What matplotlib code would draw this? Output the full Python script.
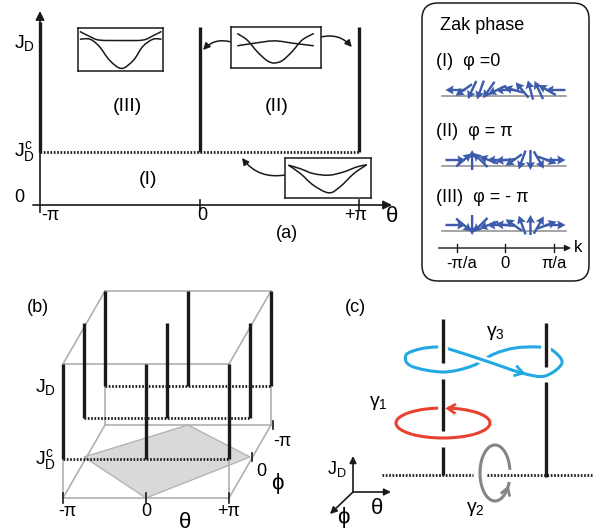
import numpy as np
import matplotlib.pyplot as plt
from matplotlib.path import Path
from matplotlib.patches import PathPatch, FancyBboxPatch, FancyArrowPatch, Polygon, Arc
import matplotlib.patheffects as pe

plt.rcParams['font.family'] = ['Liberation Sans', 'DejaVu Sans']
plt.rcParams['mathtext.fontset'] = 'custom'
plt.rcParams['mathtext.rm'] = 'Liberation Sans'
plt.rcParams['mathtext.it'] = 'Liberation Sans'
plt.rcParams['mathtext.sf'] = 'Liberation Sans'

PI = np.pi

# ---------------- data ----------------
# panel (a): phase diagram in (theta, J_D)
theta_ticks = [-PI, 0, PI]
theta_labels = ['-π', '0', '+π']
jd_c = 0.29                      # critical J_D
line_tops = [1.0, 0.97, 0.97]    # tops of the thick lines at -pi, 0, +pi
region_labels = ['(I)', '(II)', '(III)']
region_theta = [-1.01, 1.53, -1.43]
region_jd = [0.14, 0.54, 0.54]

# inset band curves (fractions of each inset box)
III_up_x = [0.02, 0.14, 0.25, 0.51, 0.76, 0.88, 0.98]
III_up_y = [0.92, 0.80, 0.72, 0.71, 0.72, 0.82, 0.92]
III_lo_x = [0.02, 0.14, 0.25, 0.37, 0.51, 0.65, 0.76, 0.88, 0.98]
III_lo_y = [0.74, 0.74, 0.57, 0.25, 0.06, 0.25, 0.57, 0.74, 0.74]
II_dip_x = [0.07, 0.18, 0.29, 0.40, 0.48, 0.57, 0.68, 0.79, 0.92]
II_dip_y = [0.84, 0.68, 0.40, 0.18, 0.12, 0.18, 0.40, 0.68, 0.84]
II_flat_x = [0.07, 0.25, 0.48, 0.70, 0.92]
II_flat_y = [0.54, 0.60, 0.66, 0.60, 0.54]
I_up_x = [0.04, 0.18, 0.33, 0.51, 0.68, 0.84, 0.95]
I_up_y = [0.82, 0.73, 0.61, 0.57, 0.65, 0.78, 0.83]
I_lo_x = [0.04, 0.18, 0.33, 0.51, 0.64, 0.80, 0.95]
I_lo_y = [0.82, 0.61, 0.32, 0.13, 0.28, 0.61, 0.83]

# Zak phase: spinor angles (deg) along k
k_samples = [-3.24, -2.70, -2.16, -1.62, -1.08, -0.54, 0.0, 0.54, 1.08, 1.62, 2.16, 2.70, 3.24]
ang_I = [180, 215, 245, 250, 235, 205, 180, 165, 130, 105, 115, 150, 180]
ang_II = [0, 40, 90, 135, 160, 180, 185, 215, 250, 270, 300, 340, 360]
ang_III = [0, -40, -90, -135, -160, -180, -185, -215, -250, -270, -300, -340, -360]
zak_titles = ['(I)  φ =0', '(II)  φ = π', '(III)  φ = - π']
k_ticks = [-PI, 0, PI]
k_labels = ['-π/a', '0', 'π/a']

# panel (b): 3D sketch, depth offsets of the phi planes
phi_nodes = [-PI, 0, PI]          # in -phi order: front (+pi), middle (0), back (-pi)
b_dx = [0, 21, 42]
b_dy = [0, -41, -73]

W, H = 602, 532
BLACK = '#1a1a1a'
BLUE = '#3c5cab'


def fig_box(x0, y0, x1, y1):
    return [x0 / W, 1 - y1 / H, (x1 - x0) / W, (y1 - y0) / H]


def smooth(pts, closed=False):
    pts = np.asarray(pts, float)
    n = len(pts)
    segs = []
    m = n if closed else n - 1
    for i in range(m):
        p0 = pts[i - 1] if (closed or i > 0) else pts[i]
        p1 = pts[i]
        p2 = pts[(i + 1) % n]
        p3 = pts[(i + 2) % n] if (closed or i + 2 < n) else p2
        segs.append((p1, p1 + (p2 - p0) / 6, p2 - (p3 - p1) / 6, p2))
    return segs


def seg_path(segs):
    verts = [segs[0][0]]
    codes = [Path.MOVETO]
    for s in segs:
        verts += [s[1], s[2], s[3]]
        codes += [Path.CURVE4] * 3
    return Path(verts, codes)


def chevron(axis, tip, d, size, color, lw, ang=32, z=5):
    d = np.asarray(d, float)
    d = d / np.hypot(*d)
    tip = np.asarray(tip, float)
    arms = []
    for s in (ang, -ang):
        a = np.radians(s)
        r = np.array([d[0] * np.cos(a) - d[1] * np.sin(a), d[0] * np.sin(a) + d[1] * np.cos(a)])
        arms.append(tip - size * r)
    axis.plot([arms[0][0], tip[0], arms[1][0]], [arms[0][1], tip[1], arms[1][1]],
              color=color, lw=lw, solid_joinstyle='miter', solid_capstyle='butt', zorder=z)


fig = plt.figure(figsize=(6.02, 5.32), dpi=100)
ax = fig.add_axes([0, 0, 1, 1])
ax.set_xlim(0, W)
ax.set_ylim(H, 0)
ax.axis('off')

# ---------------- panel (a) ----------------
ax_a = fig.add_axes(fig_box(40, 22, 359, 205))
ax_a.set_xlim(-PI, PI)
ax_a.set_ylim(0, 1)
ax_a.axis('off')

arr = dict(arrowstyle='-|>', lw=1.2, color=BLACK, mutation_scale=13, shrinkA=0, shrinkB=0)
ax_a.annotate('', xy=(PI + 0.65, 0), xytext=(-PI - 0.14, 0), arrowprops=arr, annotation_clip=False)
ax_a.annotate('', xy=(-PI, 1.06), xytext=(-PI, -0.04), arrowprops=arr, annotation_clip=False)
for t in theta_ticks[1:]:
    ax_a.plot([t, t], [-0.027, 0.027], color=BLACK, lw=1.2, clip_on=False)
for t, lab in zip(theta_ticks, theta_labels):
    ax_a.text(t + (0.2 if t < 0 else (-0.06 if t > 0 else 0.05)), -0.06, lab,
              ha='center', va='center', fontsize=13)
ax_a.text(PI + 0.66, -0.065, 'θ', ha='center', va='center', fontsize=16)
ax_a.text(1.72, -0.155, '(a)', ha='center', va='center', fontsize=13)

for t, top in zip(theta_ticks, line_tops):
    ax_a.plot([t, t], [jd_c, top], color=BLACK, lw=2.4, solid_capstyle='butt', clip_on=False)
ax_a.plot([-PI, PI], [jd_c, jd_c], color=BLACK, lw=2.0, ls=(0, (0.6, 0.6)), clip_on=False)

ax_a.text(-PI - 0.1, 0.885, r'$J_D$', ha='right', va='center', fontsize=14)
ax_a.text(-PI - 0.1, jd_c, r'$J_D^c$', ha='right', va='center', fontsize=14)
ax_a.text(-PI - 0.3, 0.04, '0', ha='right', va='center', fontsize=13)
for lab, t, j in zip(region_labels, region_theta, region_jd):
    ax_a.text(t, j, lab, ha='center', va='center', fontsize=14)

insets = [
    ([-2.39, 0.732, 1.674, 0.235], [(III_up_x, III_up_y), (III_lo_x, III_lo_y)]),
    ([0.62, 0.749, 1.773, 0.224], [(II_dip_x, II_dip_y), (II_flat_x, II_flat_y)]),
    ([1.684, 0.038, 1.694, 0.219], [(I_up_x, I_up_y), (I_lo_x, I_lo_y)]),
]
for box, curves in insets:
    ins = ax_a.inset_axes(box, transform=ax_a.transData)
    ins.set_xlim(0, 1)
    ins.set_ylim(0, 1)
    ins.set_xticks([])
    ins.set_yticks([])
    for s in ins.spines.values():
        s.set_linewidth(1.1)
        s.set_color(BLACK)
    for cx, cy in curves:
        ins.add_patch(PathPatch(seg_path(smooth(list(zip(cx, cy)))), fill=False, lw=1.1, ec=BLACK))

curve_arrows = [((0.62, 0.891), (0.07, 0.847), 0.3),
                ((2.393, 0.918), (3.00, 0.863), -0.3),
                ((1.684, 0.164), (0.837, 0.257), -0.3)]
for p0, p1, rad in curve_arrows:
    ax_a.add_patch(FancyArrowPatch(p0, p1, connectionstyle=f'arc3,rad={rad}', arrowstyle='-|>',
                                   mutation_scale=10, lw=1.1, color=BLACK, shrinkA=0, shrinkB=0,
                                   clip_on=False))

# ---------------- Zak phase box ----------------
ax.add_patch(FancyBboxPatch((422, 3), 167, 278, boxstyle='round,pad=0,rounding_size=16',
                            fill=False, ec=BLACK, lw=1.1))
ax_z = fig.add_axes(fig_box(421, 2, 591, 282))
ax_z.set_xlim(-PI - 2.33, PI + 2.40)
ax_z.set_ylim(282, 2)
ax_z.axis('off')
ax_z.text(-4.27, 25, 'Zak phase', ha='left', va='center', fontsize=13)
for row_y, title, angs in zip([96, 166, 231], zak_titles, [ang_I, ang_II, ang_III]):
    ax_z.text(-4.47, row_y - 34, title, ha='left', va='center', fontsize=13)
    ax_z.plot([-4.08, 3.89], [row_y, row_y], color='#8c8c8c', lw=1.1)
    a = np.radians(angs)
    ax_z.quiver(k_samples, [row_y - 6] * len(k_samples), np.cos(a), np.sin(a),
                angles='uv', pivot='middle', units='dots', width=2.4,
                scale_units='dots', scale=1 / 20, headwidth=3.8, headlength=3.4,
                headaxislength=3.0, color=BLUE, zorder=3)
ax_z.annotate('', xy=(4.25, 248), xytext=(-4.34, 248), annotation_clip=False,
              arrowprops=dict(arrowstyle='-|>', lw=1.0, color=BLACK, mutation_scale=9,
                              shrinkA=0, shrinkB=0))
for t, lab in zip(k_ticks, k_labels):
    ax_z.plot([t, t], [244, 252], color=BLACK, lw=1.0)
    ax_z.text(t + (0.3 if t < 0 else 0), 264, lab, ha='center', va='center', fontsize=12)
ax_z.text(4.45, 247, 'k', ha='left', va='center', fontsize=12)

# ---------------- panel (b) ----------------
b_x0, b_xs, b_y0, b_ys = 146, 83 / PI, 498, 134


def proj_b(theta, phi, j):
    x = b_x0 + theta * b_xs + np.interp(-phi, phi_nodes, b_dx)
    y = b_y0 - j * b_ys + np.interp(-phi, phi_nodes, b_dy)
    return x, y


rh = [proj_b(0, PI, 0), proj_b(PI, 0, 0), proj_b(0, -PI, 0), proj_b(-PI, 0, 0)]
ax.add_patch(Polygon(rh, closed=True, fc='#d9d9d9', ec='#b4b4b4', lw=1.0, zorder=1))

GREY = '#b0b0b0'
for th in (-PI, PI):
    for ph in (-PI, PI):
        for j in (0, 1):
            if th < 0:
                ax.plot(*zip(proj_b(-PI, ph, j), proj_b(PI, ph, j)), color=GREY, lw=1.2, zorder=1.5)
            if ph < 0:
                ax.plot(*zip(proj_b(th, -PI, j), proj_b(th, PI, j)), color=GREY, lw=1.2, zorder=1.5)
            if j == 0:
                ax.plot(*zip(proj_b(th, ph, 0), proj_b(th, ph, 1)), color=GREY, lw=1.2, zorder=1.5)

for ph in phi_nodes:
    ax.plot(*zip(proj_b(-PI, ph, jd_c), proj_b(PI, ph, jd_c)), color=BLACK, lw=2.0,
            ls=(0, (0.6, 0.6)), zorder=3)
    for th in theta_ticks:
        ax.plot(*zip(proj_b(th, ph, jd_c), proj_b(th, ph, 1)), color=BLACK, lw=2.4,
                solid_capstyle='butt', zorder=3)

for th, lab in zip(theta_ticks, theta_labels):
    x, y = proj_b(th, PI, 0)
    ax.plot([x, x], [y - 5, y + 5], color=BLACK, lw=1.2, zorder=3)
    ax.text(x + (4 if th < 0 else 0), y + 13, lab, ha='center', va='center', fontsize=13)
for ph in (0, -PI):
    x, y = proj_b(PI, ph, 0)
    ax.plot([x + 2, x + 2], [y - 4, y + 4], color=BLACK, lw=1.2, zorder=3)
x, y = proj_b(PI, -PI, 0)
ax.text(x + 11, y + 17, '-π', ha='center', va='center', fontsize=13)
x, y = proj_b(PI, 0, 0)
ax.text(x + 11, y + 14, '0', ha='center', va='center', fontsize=13)
ax.text(x + 27, y + 26, 'ϕ', ha='center', va='center', fontsize=16)
ax.text(185, 522, 'θ', ha='center', va='center', fontsize=16)
ax.text(38, 307, '(b)', ha='center', va='center', fontsize=13)
ax.text(45, 387, r'$J_D$', ha='center', va='center', fontsize=14)
ax.text(45, 460, r'$J_D^c$', ha='center', va='center', fontsize=14)

# ---------------- panel (c) ----------------
halo = [pe.withStroke(linewidth=7, foreground='white')]
c_lines = [(443, 319, 363), (443, 379, 431), (443, 447, 475), (546, 323, 367), (546, 382, 477)]
CYAN = '#22a8e3'
RED = '#e8412f'
GREY2 = '#858585'

# cyan figure-eight (gamma 3)
cyan_pts = [(449, 349), (486, 361), (522, 373), (545, 376), (562, 363), (552, 350), (538, 347),
            (515, 348), (494, 354), (472, 366), (443, 372), (411, 366), (406, 355), (420, 349),
            (437, 347)]
cseg = smooth(cyan_pts, closed=True)
ax.add_patch(PathPatch(seg_path(cseg), fill=False, ec=CYAN, lw=2.2, zorder=2))

# red loop (gamma 1)
ax.add_patch(Arc((443, 423), 94, 30, theta1=0, theta2=360, ec=RED, lw=2.2, zorder=2))

for x, y0, y1 in c_lines:
    ax.plot([x, x], [y0, y1], color=BLACK, lw=2.4, solid_capstyle='butt', zorder=3,
            path_effects=halo)

for part in (cseg[0:2], cseg[2:4], cseg[9:11]):
    ax.add_patch(PathPatch(seg_path(part), fill=False, ec=CYAN, lw=2.2, zorder=4,
                           capstyle='butt', path_effects=[pe.withStroke(linewidth=6, foreground='white')]))
chevron(ax, (523, 373), (1, 0.28), 10, CYAN, 2.0)
ax.add_patch(Arc((443, 423), 94, 30, theta1=20, theta2=160, ec=RED, lw=2.2, zorder=4,
                 path_effects=[pe.withStroke(linewidth=6, foreground='white')]))
chevron(ax, (448, 408.5), (-1, -0.05), 9, RED, 2.0)

# dotted line at J_D^c with grey loop (gamma 2)
for x0, x1 in [(382, 473), (487, 592)]:
    ax.plot([x0, x1], [475, 475], color=BLACK, lw=2.0, ls=(0, (0.6, 0.6)), zorder=3)
ax.add_patch(Arc((495, 473), 30, 56, theta1=32, theta2=348, ec=GREY2, lw=2.2, zorder=4))
t = np.radians(32)
chevron(ax, (495 + 15 * np.cos(t), 473 + 28 * np.sin(t)), (15 * np.sin(t), -28 * np.cos(t)),
        9, GREY2, 2.0)

# axis triad
tri = dict(arrowstyle='-|>', lw=1.2, color=BLACK, mutation_scale=10, shrinkA=0, shrinkB=0)
for tip in [(353, 456), (391, 492), (330, 514)]:
    ax.annotate('', xy=tip, xytext=(353, 492), arrowprops=tri)
ax.text(337, 469, r'$J_D$', ha='center', va='center', fontsize=13)
ax.text(377, 508, 'θ', ha='center', va='center', fontsize=16)
ax.text(343, 518, 'ϕ', ha='center', va='center', fontsize=16)

ax.text(355, 308, '(c)', ha='center', va='center', fontsize=13)
ax.text(495, 333, r'$\gamma_3$', ha='center', va='center', fontsize=14)
ax.text(378, 403, r'$\gamma_1$', ha='center', va='center', fontsize=14)
ax.text(475, 509, r'$\gamma_2$', ha='center', va='center', fontsize=14)

fig.savefig('out.png', dpi=100)
